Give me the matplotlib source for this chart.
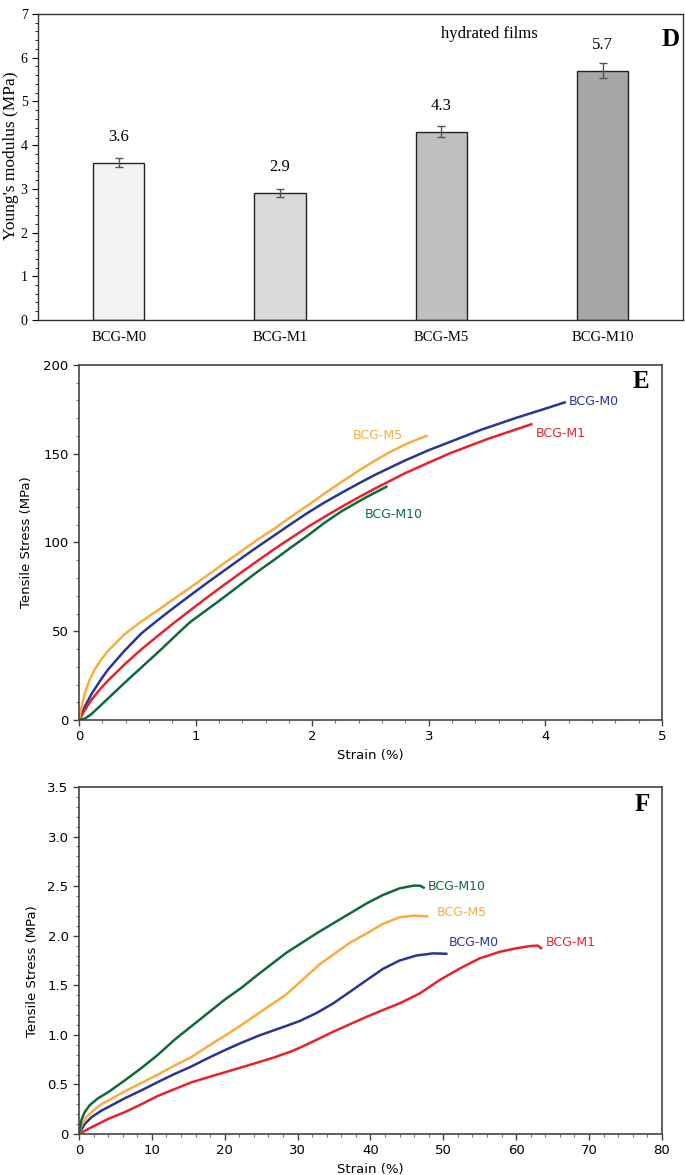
import matplotlib
matplotlib.use("Agg")
import matplotlib.pyplot as plt
from matplotlib.ticker import MultipleLocator

# ---- panel D: Young's modulus, hydrated films ----
muestras = ["BCG-M0", "BCG-M1", "BCG-M5", "BCG-M10"]
modulo = [3.6, 2.91, 4.31, 5.70]
modulo_err = [0.11, 0.09, 0.12, 0.17]
etiquetas_modulo = ["3.6", "2.9", "4.3", "5.7"]
grises = ["#f2f2f2", "#d9d9d9", "#bfbfbf", "#a6a6a6"]

# ---- panel E: tensile curves (strain %, stress MPa) ----
e_m0_x = [0, 0.05, 0.106, 0.19, 0.25, 0.39, 0.535, 0.68, 0.82, 0.964, 1.106, 1.25, 1.39, 1.53, 1.68, 1.82,
          1.964, 2.1, 2.25, 2.4, 2.536, 2.79, 3.0, 3.18, 3.45, 3.75, 4.0, 4.166]
e_m0_y = [0, 7.5, 14.5, 23.0, 28.5, 39.0, 48.8, 56.5, 63.6, 70.7, 77.6, 84.4, 91.0, 97.5, 104.2, 110.5,
          116.8, 122.3, 127.9, 133.3, 138.0, 146.0, 152.0, 156.6, 163.5, 170.2, 175.4, 178.9]
e_m1_x = [0, 0.05, 0.106, 0.18, 0.25, 0.392, 0.535, 0.678, 0.82, 0.964, 1.106, 1.25, 1.39, 1.53, 1.68, 1.82,
          1.964, 2.1, 2.25, 2.4, 2.536, 2.79, 3.0, 3.18, 3.5, 3.88]
e_m1_y = [0, 5.6, 11.3, 17.3, 22.3, 31.4, 39.8, 47.5, 55.0, 62.3, 69.4, 76.4, 83.0, 89.6, 96.5, 102.6,
          108.8, 114.2, 120.0, 125.5, 130.3, 138.8, 145.0, 150.2, 158.2, 166.6]
e_m5_x = [0, 0.02, 0.05, 0.09, 0.135, 0.19, 0.25, 0.39, 0.535, 0.68, 0.82, 0.964, 1.106, 1.25, 1.39, 1.53,
          1.68, 1.82, 1.964, 2.1, 2.25, 2.4, 2.536, 2.67, 2.79, 2.9, 2.98]
e_m5_y = [0, 7.0, 15.0, 22.5, 28.5, 34.0, 39.0, 48.3, 55.5, 62.0, 68.5, 75.0, 81.7, 88.5, 95.0, 101.5,
          108.0, 114.5, 121.0, 127.3, 134.0, 140.5, 146.0, 151.0, 155.0, 158.0, 160.0]
e_m10_x = [0, 0.05, 0.1, 0.15, 0.25, 0.4, 0.55, 0.7, 0.82, 0.93, 0.97, 1.106, 1.25, 1.39, 1.53, 1.68,
           1.82, 1.964, 2.1, 2.25, 2.45, 2.636]
e_m10_y = [0, 0.8, 3.0, 6.0, 12.2, 21.5, 30.5, 39.5, 47.0, 53.8, 56.0, 62.5, 69.5, 76.5, 83.5, 90.5,
           97.3, 104.0, 110.8, 117.5, 125.0, 131.4]

# ---- panel F: tensile curves (strain %, stress MPa) ----
f_m0_x = [0, 0.78, 1.7, 3.07, 3.98, 6.27, 8.56, 10.85, 13.1, 15.4, 17.7, 20, 22.3, 24.6, 26.9, 29.2,
          30.3, 32.6, 34.9, 37.2, 39.5, 41.7, 44.0, 46.3, 48.6, 50.4]
f_m0_y = [0, 0.10, 0.168, 0.235, 0.27, 0.36, 0.44, 0.525, 0.605, 0.68, 0.765, 0.845, 0.92, 0.99, 1.05, 1.11,
          1.14, 1.22, 1.318, 1.435, 1.553, 1.665, 1.75, 1.80, 1.822, 1.818]
f_m1_x = [0, 1.7, 3.98, 6.27, 8.56, 10.85, 13.1, 15.4, 17.7, 20, 22.3, 24.6, 26.9, 29.2, 30.3, 32.6, 34.9,
          37.2, 39.5, 41.7, 44.0, 46.8, 49.5, 52.3, 55.0, 57.8, 60.0, 61.9, 63.0, 63.4]
f_m1_y = [0, 0.067, 0.151, 0.22, 0.30, 0.385, 0.452, 0.52, 0.572, 0.622, 0.672, 0.723, 0.775, 0.835, 0.87,
          0.95, 1.032, 1.108, 1.183, 1.25, 1.318, 1.419, 1.553, 1.671, 1.772, 1.839, 1.873, 1.896, 1.9, 1.875]
f_m5_x = [0, 0.33, 1.01, 2.16, 3.07, 3.98, 6.27, 8.56, 10.85, 13.1, 15.4, 17.7, 20, 22.3, 24.6, 26.9,
          28.3, 29.7, 31.5, 33.0, 34.9, 37.2, 39.5, 41.7, 44.0, 45.9, 47.8]
f_m5_y = [0, 0.085, 0.17, 0.25, 0.30, 0.335, 0.43, 0.515, 0.60, 0.69, 0.775, 0.885, 0.99, 1.10, 1.215, 1.33,
          1.40, 1.49, 1.61, 1.71, 1.81, 1.93, 2.024, 2.12, 2.186, 2.202, 2.195]
f_m10_x = [0, 0.33, 0.78, 1.47, 2.6, 3.98, 6.27, 8.56, 10.85, 13.1, 15.4, 17.7, 20, 22.3, 24.6, 26.9,
           28.5, 30.3, 32.6, 34.9, 37.2, 39.5, 41.7, 44.0, 45.9, 46.8, 47.3]
f_m10_y = [0, 0.14, 0.22, 0.29, 0.36, 0.42, 0.54, 0.665, 0.80, 0.95, 1.085, 1.22, 1.355, 1.475, 1.61, 1.74,
           1.83, 1.915, 2.024, 2.125, 2.226, 2.327, 2.41, 2.478, 2.505, 2.505, 2.485]

AZUL = "#2b3595"
ROJO = "#e8212a"
NARANJA = "#f8ad3d"
VERDE = "#0e6b39"

fig = plt.figure(figsize=(6.85, 11.75), dpi=100)

# ---------------- D ----------------
axD = fig.add_axes([0.0555, 0.7277, 0.942, 0.2604])
pos = list(range(len(muestras)))
axD.bar(pos, modulo, width=0.32, color=grises, edgecolor="#222222", linewidth=1.0,
        yerr=modulo_err, error_kw=dict(ecolor="#555555", elinewidth=1.0, capsize=3, capthick=1.0))
for p, v, t in zip(pos, modulo, etiquetas_modulo):
    axD.text(p, v + 0.58, t, ha="center", va="center", family="Liberation Serif", fontsize=12)
axD.set_xlim(-0.5, 3.5)
axD.set_ylim(0, 7)
axD.set_xticks(pos)
axD.set_xticklabels(muestras, family="Liberation Serif", fontsize=10.5)
axD.tick_params(axis="x", length=0, pad=8)
axD.yaxis.set_major_locator(MultipleLocator(1))
axD.yaxis.set_minor_locator(MultipleLocator(0.2))
axD.tick_params(axis="y", which="major", length=4, labelsize=10)
axD.tick_params(axis="y", which="minor", length=2)
for lab in axD.get_yticklabels():
    lab.set_family("Liberation Serif")
axD.set_ylabel("Young's modulus (MPa)", family="Liberation Serif", fontsize=12.5)
axD.yaxis.set_label_coords(-0.029, 0.536)
axD.text(2.3, 6.55, "hydrated films", ha="center", va="center", family="Liberation Serif", fontsize=12)
axD.text(0.98, 0.915, "D", transform=axD.transAxes, ha="center", va="center",
         family="Liberation Serif", fontweight="bold", fontsize=18)
for s in axD.spines.values():
    s.set_color("#333333")
    s.set_linewidth(1.0)


def panel_traccion(ax):
    for s in ax.spines.values():
        s.set_color("#444444")
        s.set_linewidth(1.2)
    ax.tick_params(which="major", length=4, width=1.0, color="#444444", labelsize=9.5)
    ax.tick_params(which="minor", length=2.5, width=0.8, color="#777777")
    ax.set_xlabel("Strain (%)", fontsize=9.5)
    ax.set_ylabel("Tensile Stress (MPa)", fontsize=9.5)


# ---------------- E ----------------
axE = fig.add_axes([0.1153, 0.3872, 0.851, 0.3022])
axE.plot(e_m0_x, e_m0_y, color=AZUL, lw=1.8)
axE.plot(e_m1_x, e_m1_y, color=ROJO, lw=1.8)
axE.plot(e_m5_x, e_m5_y, color=NARANJA, lw=1.8)
axE.plot(e_m10_x, e_m10_y, color=VERDE, lw=1.8)
axE.text(4.205, 179.3, "BCG-M0", color=AZUL, fontsize=9, va="center")
axE.text(3.92, 161.5, "BCG-M1", color=ROJO, fontsize=9, va="center")
axE.text(2.35, 160.2, "BCG-M5", color=NARANJA, fontsize=9, va="center")
axE.text(2.45, 116.0, "BCG-M10", color=VERDE, fontsize=9, va="center")
axE.text(4.82, 190.6, "E", ha="center", va="center", family="Liberation Serif",
         fontweight="bold", fontsize=18)
axE.set_xlim(0, 5)
axE.set_ylim(0, 200)
axE.xaxis.set_major_locator(MultipleLocator(1))
axE.xaxis.set_minor_locator(MultipleLocator(0.2))
axE.yaxis.set_major_locator(MultipleLocator(50))
axE.yaxis.set_minor_locator(MultipleLocator(10))
panel_traccion(axE)
axE.yaxis.set_label_coords(-0.079, 0.5)

# ---------------- F ----------------
axF = fig.add_axes([0.1153, 0.0349, 0.851, 0.2953])
axF.plot(f_m0_x, f_m0_y, color=AZUL, lw=1.8)
axF.plot(f_m1_x, f_m1_y, color=ROJO, lw=1.8)
axF.plot(f_m5_x, f_m5_y, color=NARANJA, lw=1.8)
axF.plot(f_m10_x, f_m10_y, color=VERDE, lw=1.8)
axF.text(47.8, 2.50, "BCG-M10", color=VERDE, fontsize=9, va="center")
axF.text(49.1, 2.236, "BCG-M5", color=NARANJA, fontsize=9, va="center")
axF.text(50.8, 1.934, "BCG-M0", color=AZUL, fontsize=9, va="center")
axF.text(64.1, 1.934, "BCG-M1", color=ROJO, fontsize=9, va="center")
axF.text(77.3, 3.32, "F", ha="center", va="center", family="Liberation Serif",
         fontweight="bold", fontsize=18)
axF.set_xlim(0, 80)
axF.set_ylim(0, 3.5)
axF.xaxis.set_major_locator(MultipleLocator(10))
axF.xaxis.set_minor_locator(MultipleLocator(2))
axF.set_yticks([0, 0.5, 1.0, 1.5, 2.0, 2.5, 3.0, 3.5])
axF.set_yticklabels(["0", "0.5", "1.0", "1.5", "2.0", "2.5", "3.0", "3.5"])
axF.yaxis.set_minor_locator(MultipleLocator(0.1))
panel_traccion(axF)
axF.yaxis.set_label_coords(-0.069, 0.468)

fig.savefig("out.png", dpi=100)
